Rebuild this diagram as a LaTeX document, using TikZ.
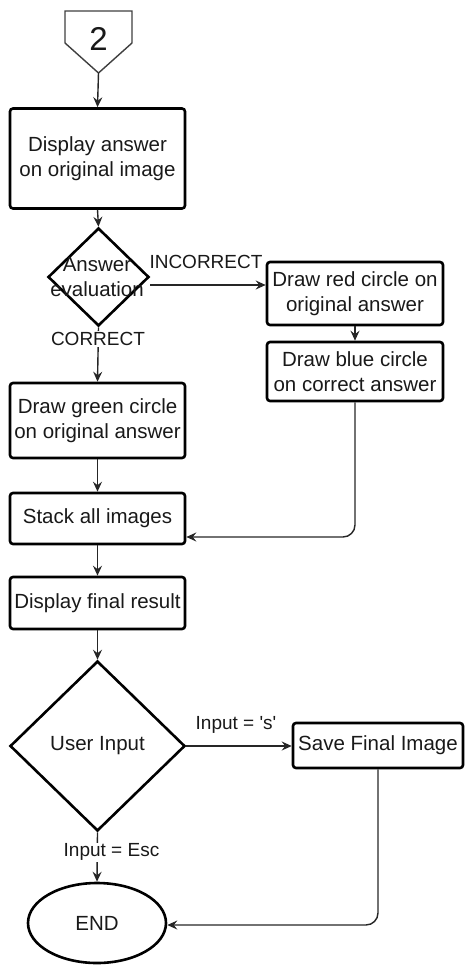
\documentclass[tikz,border=0pt]{standalone}
\usepackage{fontspec}
\setmainfont{Liberation Sans}
\usetikzlibrary{arrows.meta,shapes.geometric,calc}
\begin{document}
\begin{tikzpicture}[x=1pt,y=-1pt,
  txt/.style={font=\fontsize{20.5}{25}\selectfont, text=black!90, align=center},
  ltxt/.style={font=\fontsize{19}{23}\selectfont, text=black!90, align=center},
  box/.style={txt, draw=black, line width=2.6pt, rounded corners=3pt, inner sep=0pt},
  dia/.style={draw=black, line width=2.6pt, diamond, inner sep=0pt},
  oval/.style={txt, draw=black, line width=2.6pt, ellipse, inner sep=0pt},
  arr/.style={draw=black!85, line width=1.4pt, -{Stealth[length=10pt,width=9pt,inset=3.5pt]}},
  lbl/.style={ltxt, fill=white, inner sep=1pt}]
\useasboundingbox (0,0) rectangle (465,966);
% off-page connector
\draw[draw=black!75, line width=1.4pt, fill=white] (65,11) -- (132,11) -- (132,43) -- (98.5,73) -- (65,43) -- cycle;
\coordinate (ptip) at (98.5,73);
\node[font=\fontsize{33}{36}\selectfont, text=black!90] (two) at (98.5,38.5) {2};
% nodes
\node[box, minimum width=175pt, minimum height=100pt] (b1) at (97.5,158.5) {Display answer\\on original image};
\node[dia, minimum width=101pt, minimum height=98pt] (d1) at (98.5,277) {};
\node[txt] (d1t) at (97,277) {Answer\\evaluation};
\node[box, minimum width=176pt, minimum height=63pt] (b2) at (355,293.5) {Draw red circle on\\original answer};
\node[box, minimum width=176pt, minimum height=59pt] (b3) at (355,371.5) {Draw blue circle\\on correct answer};
\node[box, minimum width=175pt, minimum height=75pt] (b4) at (97.5,420.5) {Draw green circle\\on original answer};
\node[box, minimum width=175pt, minimum height=51pt] (b5) at (97.5,518.5) {Stack all images};
\node[box, minimum width=175pt, minimum height=52pt] (b6) at (97.5,603) {Display final result};
\node[dia, minimum width=175pt, minimum height=170pt] (d2) at (97.5,746) {};
\node[txt] (d2t) at (97.5,746) {User Input};
\node[box, minimum width=170pt, minimum height=45pt] (b7) at (378,745.5) {Save Final Image};
\node[oval, minimum width=138pt, minimum height=80pt] (e) at (97,923) {END};
% connectors
\draw[arr] (ptip) -- (b1.north);
\draw[arr] (b1.south) -- (d1.north);
\draw[arr] ([yshift=-8pt]d1.east) -- ([yshift=-8pt]d1.east -| b2.west);
\node[ltxt] (linc) at (206,262) {INCORRECT};
\draw[arr] (b2.south) -- (b3.north);
\draw[arr] (d1.south) -- (b4.north);
\node[lbl] (lcor) at (98,339) {CORRECT};
\draw[arr, rounded corners=12pt] (b3.south) |- ([yshift=-18.5pt]b5.east);
\draw[arr] (b4.south) -- (b5.north);
\draw[arr] (b5.south) -- (b6.north);
\draw[arr] (b6.south) -- (d2.north);
\draw[arr] (d2.east) -- (d2.east -| b7.west);
\node[ltxt] (ls) at (236,725) {Input = \textquotesingle s\textquotesingle};
\draw[arr] (d2.south) -- (e.north);
\node[lbl] (lesc) at (111.5,852) {Input = Esc};
\draw[arr, rounded corners=12pt] (b7.south) |- ([yshift=-2pt]e.east);
\end{tikzpicture}
\end{document}
